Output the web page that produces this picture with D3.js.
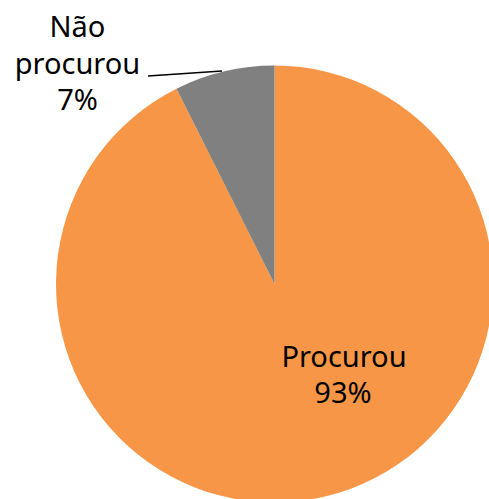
<!DOCTYPE html>
<html><head><meta charset="utf-8">
<script src="https://cdn.jsdelivr.net/npm/d3@7"></script>
<style>html,body{margin:0;padding:0;background:#fff;}svg{display:block;}</style>
</head><body>
<script>
const categories = ["Procurou", "Não procurou"];
const values = [92.6, 7.4];
const labels = ["93%", "7%"];
const colors = ["#F79646", "#808080"];

const W = 489, H = 499;
const cx = 274.5, cy = 284, R = 218.5;
const svg = d3.select("body").append("svg").attr("width", W).attr("height", H);
const g = svg.append("g").attr("transform", `translate(${cx},${cy})`);
const pie = d3.pie().sort(null).value(d => d)(values);
const arc = d3.arc().innerRadius(0).outerRadius(R);
g.selectAll("path").data(pie).join("path")
  .attr("d", arc).attr("fill", (d,i) => colors[i]);

const font = "'Noto Sans', 'Open Sans', sans-serif";
const fs = 29;
const t1 = svg.append("text").attr("text-anchor", "middle").attr("font-family", font).attr("font-size", fs).attr("fill", "#000");
t1.append("tspan").attr("x", 344).attr("y", 367).text(categories[0]);
t1.append("tspan").attr("x", 343).attr("y", 403).text(labels[0]);

const lines = categories[1].split(" ").concat([labels[1]]);
const t2 = svg.append("text").attr("text-anchor", "middle").attr("font-family", font).attr("font-size", fs).attr("fill", "#000");
lines.forEach((s, i) => t2.append("tspan").attr("x", 77.5).attr("y", 37 + i * 36.5).text(s));

svg.append("polyline").attr("points", "148,76 222,71")
  .attr("fill", "none").attr("stroke", "#000").attr("stroke-width", 1.5);
</script>
</body></html>
